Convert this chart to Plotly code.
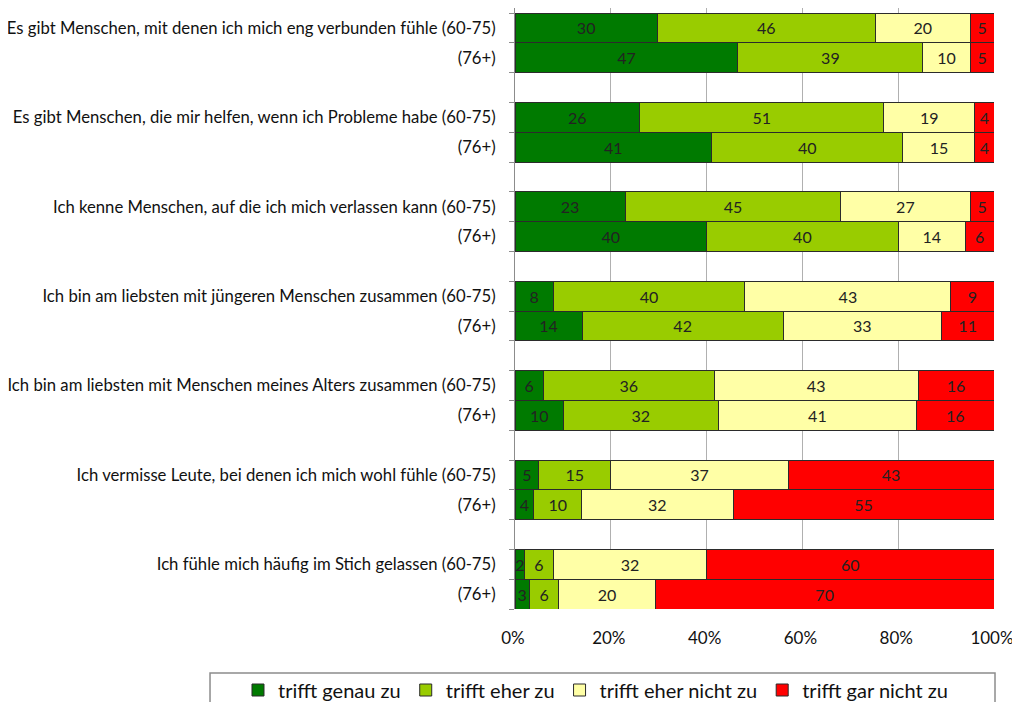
import plotly.graph_objects as go

statements = [
    "Es gibt Menschen, mit denen ich mich eng verbunden fühle",
    "Es gibt Menschen, die mir helfen, wenn ich Probleme habe",
    "Ich kenne Menschen, auf die ich mich verlassen kann",
    "Ich bin am liebsten mit jüngeren Menschen zusammen",
    "Ich bin am liebsten mit Menschen meines Alters zusammen",
    "Ich vermisse Leute, bei denen ich mich wohl fühle",
    "Ich fühle mich häufig im Stich gelassen",
]
age_groups = ["(60-75)", "(76+)"]

series_names = ["trifft genau zu", "trifft eher zu", "trifft eher nicht zu", "trifft gar nicht zu"]
colors = ["#007A00", "#99CC00", "#FFFFA6", "#FF0000"]

# rows: statement (60-75), statement (76+) for each statement
genau = [30, 47, 26, 41, 23, 40, 8, 14, 6, 10, 5, 4, 2, 3]
eher = [46, 39, 51, 40, 45, 40, 40, 42, 36, 32, 15, 10, 6, 6]
eher_nicht = [20, 10, 19, 15, 27, 14, 43, 33, 43, 41, 37, 32, 32, 20]
gar_nicht = [5, 5, 4, 4, 5, 6, 9, 11, 16, 16, 43, 55, 60, 70]
series_values = [genau, eher, eher_nicht, gar_nicht]

x_ticks = [0, 20, 40, 60, 80, 100]
x_ticklabels = ["0%", "20%", "40%", "60%", "80%", "100%"]

# positions: each statement occupies 2 slots followed by a blank slot
ypos = []
ylabels = []
for g, s in enumerate(statements):
    for a, ag in enumerate(age_groups):
        ypos.append(3 * g + a)
        ylabels.append(f"{s} {ag}" if a == 0 else ag)

n_slots = 3 * len(statements) - 1
font_family = "Lato, 'Open Sans', sans-serif"

fig = go.Figure()
for name, col, vals in zip(series_names, colors, series_values):
    fig.add_trace(go.Bar(
        y=ypos, x=vals, orientation="h", name=name,
        marker=dict(color=col, line=dict(color="#2b2b2b", width=1)),
        width=1.0,
        text=[str(v) for v in vals], textposition="inside",
        insidetextanchor="middle", textangle=0,
        textfont=dict(family=font_family, size=16, color="#222222"),
        constraintext="none",
        hoverinfo="skip",
    ))

yr = [n_slots - 0.5, -0.668]
fig.update_layout(
    barmode="stack", barnorm="percent",
    width=1012, height=694,
    margin=dict(l=507, r=26, t=0, b=93, autoexpand=False),
    paper_bgcolor="white", plot_bgcolor="white",
    font=dict(family=font_family, size=16, color="#111111"),
    uniformtext=dict(minsize=8, mode="show"),
    xaxis=dict(
        range=[0, 100], tickvals=x_ticks, ticktext=x_ticklabels,
        showgrid=True, gridcolor="#b0b0b0", gridwidth=1,
        zeroline=False, showline=False, ticks="", ticklabelstandoff=17,
        ticklabelshift=-2,
        tickfont=dict(size=17, color="#111111"), ticklabeloverflow="allow",
        fixedrange=True, automargin=False,
    ),
    yaxis=dict(
        range=yr, tickvals=ypos, ticktext=ylabels,
        showgrid=False, zeroline=False, showline=True, linecolor="#8c8c8c",
        ticks="", ticklabelstandoff=15, automargin=False,
        tickfont=dict(size=16.7, color="#111111"),
    ),
    yaxis2=dict(
        overlaying="y", range=yr, automargin=False,
        tickvals=[i - 0.5 for i in range(n_slots + 1)],
        ticks="outside", ticklen=5, tickcolor="#8c8c8c",
        showticklabels=False, showgrid=False, zeroline=False, side="left",
    ),
    legend=dict(
        orientation="h", x=-0.5783, xanchor="left", y=-0.1348, yanchor="middle",
        borderwidth=0, bgcolor="rgba(0,0,0,0)",
        font=dict(size=20, color="#111111"),
        traceorder="normal",
    ),
    showlegend=True,
    shapes=[dict(
        type="rect", xref="paper", yref="paper",
        x0=-0.6367, x1=1.0021, y0=-0.1065, y1=-0.2,
        line=dict(color="#8c8c8c", width=1.5), fillcolor="rgba(0,0,0,0)",
        layer="below",
    )],
)
# invisible trace to activate yaxis2 ticks
fig.add_trace(go.Scatter(x=[None], y=[None], yaxis="y2", showlegend=False, hoverinfo="skip"))

fig.write_html("out.html")
